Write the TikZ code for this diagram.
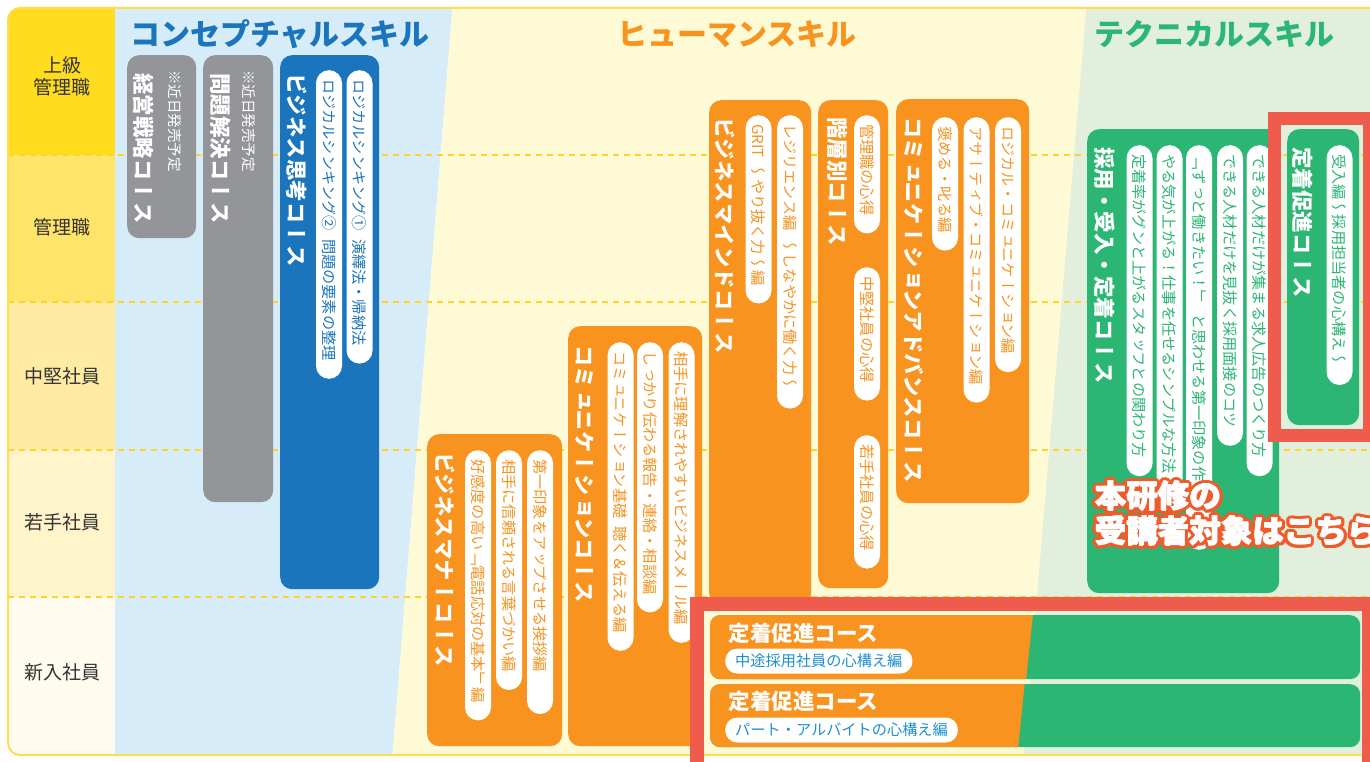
\documentclass[tikz,border=0pt]{standalone}
\usepackage{fontspec}
\setmainfont{Noto Sans CJK JP}
\newfontfamily\tatefont[Vertical=RotatedGlyphs]{Noto Sans CJK JP}

\definecolor{skillblue}{HTML}{1B75BC}
\definecolor{skillorange}{HTML}{F7931E}
\definecolor{skillgreen}{HTML}{2BB673}
\definecolor{coursegray}{HTML}{939598}
\definecolor{bgblue}{HTML}{D6ECF9}
\definecolor{bgcream}{HTML}{FFFAD6}
\definecolor{bggreen}{HTML}{E3EFDD}
\definecolor{rowA}{HTML}{FFDC1E}
\definecolor{rowB}{HTML}{FFE46A}
\definecolor{rowC}{HTML}{FFEBA2}
\definecolor{rowD}{HTML}{FFF4CA}
\definecolor{rowE}{HTML}{FFFCEF}
\definecolor{dashyellow}{HTML}{FFD426}
\definecolor{markred}{HTML}{EF5B4C}
\definecolor{calloutred}{HTML}{F15A29}
\definecolor{subblue}{HTML}{1E8FD5}
\definecolor{labelgray}{HTML}{333333}

\tikzset{
  course/.style={rounded corners=12pt, inner sep=0pt, anchor=north west},
  title/.style={rotate=-90, anchor=west, inner sep=0pt, text=white,
    font=\tatefont\bfseries\fontsize{21.5}{26}\selectfont},
  note/.style={rotate=-90, anchor=west, inner sep=0pt, text=white,
    font=\tatefont\fontsize{14.5}{18}\selectfont},
  pill/.style={rotate=-90, anchor=west, fill=white, rounded corners=13pt,
    minimum height=26pt, inner xsep=0pt, inner ysep=0pt,
    font=\tatefont\fontsize{15.2}{18}\selectfont,
    execute at begin node=\kern9pt, execute at end node=\kern18pt},
  bpill/.style={pill, text=skillblue},
  opill/.style={pill, text=skillorange},
  gpill/.style={pill, text=skillgreen},
  hpill/.style={anchor=west, fill=white, rounded corners=12pt, minimum height=25pt,
    inner xsep=10pt, inner ysep=0pt, text=subblue, font=\fontsize{15.2}{18}\selectfont},
  skill/.style={font=\bfseries\fontsize{30}{34}\selectfont},
  rowlabel/.style={text=labelgray, align=center, font=\fontsize{19}{22}\selectfont},
  rowline/.style={dashyellow, line width=1.6pt, dash pattern=on 6pt off 5pt},
  callout/.style={anchor=west, align=left, inner sep=0pt,
    font=\bfseries\fontsize{31.5}{35}\selectfont}
}

\begin{document}
\begin{tikzpicture}[x=1pt, y=-1pt]
    \useasboundingbox (0,0) rectangle (1370,762);
    \fill[white] (0,0) rectangle (1370,762);

    \begin{scope}
        \clip[rounded corners=12pt] (8,8) rectangle (1400,755);
        \fill[bgblue] (115,0) -- (453,0) -- (392,762) -- (115,762) -- cycle;
        \fill[bgcream] (453,0) -- (1087,0) -- (1023,762) -- (392,762) -- cycle;
        \fill[bggreen] (1087,0) -- (1400,0) -- (1400,762) -- (1023,762) -- cycle;
        \fill[rowA] (0,0) rectangle (115,155);
        \fill[rowB] (0,155) rectangle (115,302);
        \fill[rowC] (0,302) rectangle (115,450);
        \fill[rowD] (0,450) rectangle (115,597);
        \fill[rowE] (0,597) rectangle (115,762);
        \foreach \y in {155,302,450,597}
            \draw[rowline] (8,\y) -- (1370,\y);
    \end{scope}
    \draw[dashyellow!80, line width=2pt, rounded corners=12pt] (1380,8) -- (8,8) -- (8,755) -- (1380,755);

    \node[rowlabel] (lv1) at (62,76) {上級\\管理職};
    \node[rowlabel] (lv2) at (62,227) {管理職};
    \node[rowlabel] (lv3) at (62,376) {中堅社員};
    \node[rowlabel] (lv4) at (62,522) {若手社員};
    \node[rowlabel] (lv5) at (62,672) {新入社員};

    \node[skill, text=skillblue] (concept) at (280,34) {コンセプチャルスキル};
    \node[skill, text=skillorange] (human) at (737,34) {ヒューマンスキル};
    \node[skill, text=skillgreen] (technical) at (1214,34) {テクニカルスキル};

    % conceptual
    \node[course, fill=coursegray, minimum width=69, minimum height=183] (keiei) at (127,55) {};
    \node[title] (keieiT) at (144,73) {経営戦略コース};
    \node[note] (keieiN) at (175,70) {※近日発売予定};
    \node[course, fill=coursegray, minimum width=70, minimum height=447] (mondai) at (203,55) {};
    \node[title] (mondaiT) at (221,73) {問題解決コース};
    \node[note] (mondaiN) at (249,70) {※近日発売予定};
    \node[course, fill=skillblue, minimum width=99, minimum height=534] (shikou) at (280,55) {};
    \node[title] (shikouT) at (297,73) {ビジネス思考コース};
    \node[bpill] (lt2) at (329,70) {ロジカルシンキング②\kern8pt 問題の要素の整理};
    \node[bpill] (lt1) at (359.5,70) {ロジカルシンキング①\kern8pt 演繹法・帰納法};

    % human
    \node[course, fill=skillorange, minimum width=135, minimum height=312] (manner) at (427,434) {};
    \node[title] (mannerT) at (445,452) {ビジネスマナーコース};
    \node[opill] (mn1) at (478,450) {好感度の高い「電話応対の基本」編};
    \node[opill] (mn2) at (509,450) {相手に信頼される言葉づかい編};
    \node[opill] (mn3) at (540,450) {第一印象をアップさせる挨拶編\kern24pt};

    \node[course, fill=skillorange, minimum width=134, minimum height=420] (comm) at (568,326) {};
    \node[title] (commT) at (585,345) {コミュニケーションコース};
    \node[opill] (cm1) at (620.5,342) {コミュニケーション基礎\kern8pt 聴く＆伝える編};
    \node[opill] (cm2) at (650,342) {しっかり伝わる報告・連絡・相談編};
    \node[opill] (cm3) at (681.5,342) {相手に理解されやすいビジネスメール編};

    \node[course, fill=skillorange, minimum width=102, minimum height=505] (mind) at (709,100) {};
    \node[title] (mindT) at (725,117) {ビジネスマインドコース};
    \node[opill] (md1) at (758.5,115) {{\normalfont GRIT}\kern6pt～やり抜く力～編};
    \node[opill] (md2) at (790,115) {レジリエンス編\kern8pt～しなやかに働く力～};

    \node[course, fill=skillorange, minimum width=70, minimum height=488] (kaisou) at (818,100) {};
    \node[title] (kaisouT) at (837,117) {階層別コース};
    \node[opill] (ks1) at (867,115) {管理職の心得};
    \node[opill] (ks2) at (867,267) {中堅社員の心得};
    \node[opill] (ks3) at (867,435) {若手社員の心得};

    \node[course, fill=skillorange, minimum width=133, minimum height=404] (advance) at (896,99) {};
    \node[title] (advanceT) at (914,117) {コミュニケーションアドバンスコース};
    \node[opill] (ad1) at (945,117) {褒める・叱る編};
    \node[opill] (ad2) at (976.5,117) {アサーティブ・コミュニケーション編};
    \node[opill] (ad3) at (1008,117) {ロジカル・コミュニケーション編};

    % technical
    \node[course, fill=skillgreen, minimum width=192, minimum height=464] (saiyou) at (1087,129) {};
    \node[title] (saiyouT) at (1105,147) {採用・受入・定着コース};
    \node[gpill] (tc1) at (1139.5,145) {定着率がグンと上がるスタッフとの関わり方};
    \node[gpill] (tc2) at (1169.5,145) {やる気が上がる！仕事を任せるシンプルな方法};
    \node[gpill] (tc3) at (1199,145) {「ずっと働きたい！」\kern8pt と思わせる第一印象の作り方\kern20pt};
    \node[gpill] (tc4) at (1230,145) {できる人材だけを見抜く採用面接のコツ};
    \node[gpill] (tc5) at (1259.5,145) {できる人材だけが集まる求人広告のつくり方};

    \node[course, fill=skillgreen, minimum width=72, minimum height=296] (teichaku) at (1287,129) {};
    \node[title] (teichakuT) at (1303,147) {定着促進コース};
    \node[gpill] (tk1) at (1339.5,145) {受入編～採用担当者の心構え～};

    % new hires
    \node[course, fill=skillgreen, minimum width=650, minimum height=64, rounded corners=10pt] (stay1) at (710,615) {};
    \begin{scope}
        \clip[rounded corners=10pt] (710,615) rectangle (1360,679);
        \fill[skillorange] (700,610) -- (1033.5,610) -- (1025.5,685) -- (700,685) -- cycle;
    \end{scope}
    \node[anchor=west, text=white, font=\bfseries\fontsize{21.5}{26}\selectfont] (stay1T) at (725,633) {定着促進コース};
    \node[hpill] (stay1P) at (725,661) {中途採用社員の心構え編};

    \node[course, fill=skillgreen, minimum width=650, minimum height=63, rounded corners=10pt] (stay2) at (710,684) {};
    \begin{scope}
        \clip[rounded corners=10pt] (710,684) rectangle (1360,747);
        \fill[skillorange] (700,680) -- (1025,680) -- (1018,750) -- (700,750) -- cycle;
    \end{scope}
    \node[anchor=west, text=white, font=\bfseries\fontsize{21.5}{26}\selectfont] (stay2T) at (725,701) {定着促進コース};
    \node[hpill] (stay2P) at (725,730) {パート・アルバイトの心構え編};

    \draw[markred, line width=13pt] (1274.5,118.5) rectangle (1369,435.5);
    \draw[markred, line width=14pt] (697,604) rectangle (1369,769);

    \foreach \a [count=\i] in {0,22.5,...,337.5}
        \node[callout, text=calloutred, xshift={3.7*cos(\a)}, yshift={3.7*sin(\a)}] (co\i) at (1095,513.5) {本研修の\\受講者対象はこちら};
    \foreach \a [count=\i] in {0,90,180,270}
        \node[callout, text=white, xshift={0.6*cos(\a)}, yshift={0.6*sin(\a)}] (cw\i) at (1095,513.5) {本研修の\\受講者対象はこちら};
    \node[callout, text=white] (callout) at (1095,513.5) {本研修の\\受講者対象はこちら};
\end{tikzpicture}
\end{document}
